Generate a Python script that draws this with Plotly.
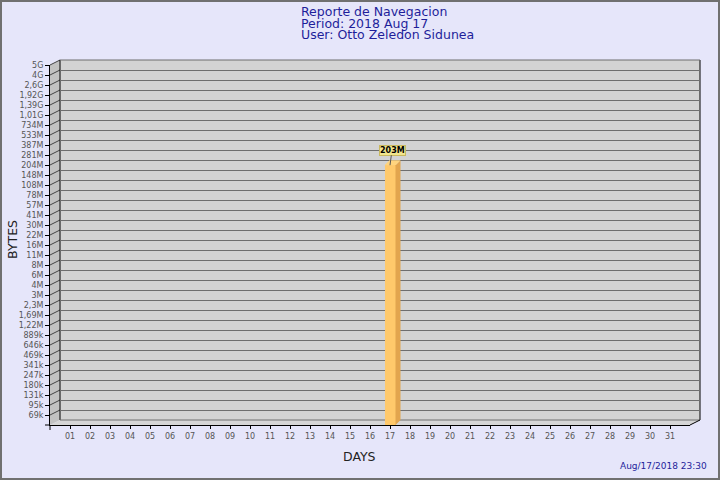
import math
import plotly.graph_objects as go

# ---------------- data ----------------
TITLE_LINES = ["Reporte de Navegacion", "Period: 2018 Aug 17", "User: Otto Zeledon Sidunea"]
DAY_LABELS = ["01", "02", "03", "04", "05", "06", "07", "08", "09", "10",
              "11", "12", "13", "14", "15", "16", "17", "18", "19", "20",
              "21", "22", "23", "24", "25", "26", "27", "28", "29", "30", "31"]
DAY_NUMBERS = [1, 2, 3, 4, 5, 6, 7, 8, 9, 10, 11, 12, 13, 14, 15, 16,
               17, 18, 19, 20, 21, 22, 23, 24, 25, 26, 27, 28, 29, 30, 31]
BYTES_PER_DAY = [0, 0, 0, 0, 0, 0, 0, 0, 0, 0, 0, 0, 0, 0, 0, 0,
                 203e6, 0, 0, 0, 0, 0, 0, 0, 0, 0, 0, 0, 0, 0, 0]
BAR_TEXT = ["", "", "", "", "", "", "", "", "", "", "", "", "", "", "", "",
            "203M", "", "", "", "", "", "", "", "", "", "", "", "", "", ""]
Y_TICK_LABELS = ["69k", "95k", "131k", "180k", "247k", "341k", "469k", "646k", "889k",
                 "1,22M", "1,69M", "2,3M", "3M", "4M", "6M", "8M", "11M", "16M", "22M",
                 "30M", "41M", "57M", "78M", "108M", "148M", "204M", "281M", "387M",
                 "533M", "734M", "1,01G", "1,39G", "1,92G", "2,6G", "4G", "5G"]
Y_FIRST_TICK = 69e3
Y_LAST_TICK = 5e9
X_TITLE = "DAYS"
Y_TITLE = "BYTES"
TIMESTAMP = "Aug/17/2018 23:30"

# ---------------- geometry / style ----------------
W, H = 720, 480
ML, MR, MT, MB = 50, 20, 60, 55
PW, PH = W - ML - MR, H - MT - MB
DEPTH_X, DEPTH_Y = 10, 5          # 3D offset of back plane (px)


def px(x):
    return (x - ML) / PW


def py(y):
    return (H - MB - y) / PH


n_steps = len(Y_TICK_LABELS) - 1
lo, hi = math.log10(Y_FIRST_TICK), math.log10(Y_LAST_TICK)
step = (hi - lo) / n_steps
tick_vals = [10 ** (lo + k * step) for k in range(len(Y_TICK_LABELS))]
y_range = [lo - step, hi]
half = 10 ** (step / 2)           # multiplicative half step (= 5 px)
x_range = [0, 32]

BG = "#E6E6FA"
PLANE = "#D3D3D3"
WALL = "#C2C2C2"
FLOOR = "#D6D6D6"
GRID = "#6E6E6E"
NAVY = "#1E1E9A"
TICKC = "#555555"
BAR_FRONT = "#FFC96B"
BAR_SIDE = "#E2A54E"
BAR_TOP = "#FFD47E"

fig = go.Figure()

# invisible trace on the back (grid) subplot
fig.add_trace(go.Scatter(x=[0], y=[tick_vals[0]], mode="markers",
                         marker=dict(opacity=0), xaxis="x", yaxis="y",
                         hoverinfo="skip", showlegend=False))

# bars (front frame)
bar_x = [d for d, v in zip(DAY_NUMBERS, BYTES_PER_DAY) if v > 0]
bar_y = [v for v in BYTES_PER_DAY if v > 0]
bar_w = 0.55
dx = DEPTH_X / 2 / (PW - DEPTH_X) * (x_range[1] - x_range[0])  # 5 px in day units
y_bottom = 10 ** y_range[0]

for xv, yv in zip(bar_x, bar_y):
    # side face
    fig.add_trace(go.Scatter(
        x=[xv + bar_w / 2, xv + bar_w / 2 + dx, xv + bar_w / 2 + dx, xv + bar_w / 2],
        y=[y_bottom, y_bottom * half, yv * half, yv],
        fill="toself", fillcolor=BAR_SIDE, mode="lines", line=dict(width=0),
        xaxis="x2", yaxis="y2", hoverinfo="skip", showlegend=False))
    # top face
    fig.add_trace(go.Scatter(
        x=[xv - bar_w / 2, xv - bar_w / 2 + dx, xv + bar_w / 2 + dx, xv + bar_w / 2],
        y=[yv, yv * half, yv * half, yv],
        fill="toself", fillcolor=BAR_TOP, mode="lines", line=dict(width=0),
        xaxis="x2", yaxis="y2", hoverinfo="skip", showlegend=False))

fig.add_trace(go.Bar(x=bar_x, y=bar_y, width=bar_w,
                     marker=dict(color=BAR_FRONT, line=dict(width=0)),
                     xaxis="x2", yaxis="y2", showlegend=False))

shapes = []
# back plane
shapes.append(dict(type="rect", xref="paper", yref="paper",
                   x0=px(ML + DEPTH_X), x1=px(ML + PW), y0=py(MT + PH - DEPTH_Y), y1=py(MT),
                   fillcolor=PLANE, line=dict(width=0), layer="below"))
# left wall
wall = "M {},{} L {},{} L {},{} L {},{} Z".format(
    px(ML), py(MT + DEPTH_Y), px(ML + DEPTH_X), py(MT),
    px(ML + DEPTH_X), py(MT + PH - DEPTH_Y), px(ML), py(MT + PH))
shapes.append(dict(type="path", xref="paper", yref="paper", path=wall,
                   fillcolor=WALL, line=dict(width=0), layer="below"))
# floor
floor = "M {},{} L {},{} L {},{} L {},{} Z".format(
    px(ML), py(MT + PH), px(ML + DEPTH_X), py(MT + PH - DEPTH_Y),
    px(ML + PW), py(MT + PH - DEPTH_Y), px(ML + PW - DEPTH_X), py(MT + PH))
shapes.append(dict(type="path", xref="paper", yref="paper", path=floor,
                   fillcolor=FLOOR, line=dict(width=0), layer="below"))

# slanted tick connectors on the left wall
front_top = MT + DEPTH_Y
front_h = PH - DEPTH_Y
for k in range(len(Y_TICK_LABELS)):
    yk = MT + PH - (k + 1) * front_h / (n_steps + 1)
    shapes.append(dict(type="line", xref="paper", yref="paper",
                       x0=px(ML), y0=py(yk), x1=px(ML + DEPTH_X), y1=py(yk - DEPTH_Y),
                       line=dict(color="#444444", width=1), layer="below"))

# back plane edges
shapes += [
    dict(type="line", xref="paper", yref="paper", x0=px(ML + DEPTH_X), x1=px(ML + DEPTH_X),
         y0=py(MT), y1=py(MT + PH - DEPTH_Y), line=dict(color="black", width=1), layer="below"),
    dict(type="line", xref="paper", yref="paper", x0=px(ML + PW), x1=px(ML + PW),
         y0=py(MT), y1=py(MT + PH - DEPTH_Y), line=dict(color="black", width=1), layer="below"),
    dict(type="line", xref="paper", yref="paper", x0=px(ML + DEPTH_X), x1=px(ML + PW),
         y0=py(MT), y1=py(MT), line=dict(color=GRID, width=1), layer="below"),
    dict(type="line", xref="paper", yref="paper", x0=px(ML + DEPTH_X), x1=px(ML + PW),
         y0=py(MT + PH - DEPTH_Y), y1=py(MT + PH - DEPTH_Y), line=dict(color=GRID, width=1), layer="below"),
    dict(type="line", xref="paper", yref="paper", x0=px(ML + PW - DEPTH_X), x1=px(ML + PW),
         y0=py(MT + PH), y1=py(MT + PH - DEPTH_Y), line=dict(color="black", width=1), layer="below"),
    # axis cross at origin
    dict(type="line", xref="paper", yref="paper", x0=px(ML), x1=px(ML),
         y0=py(MT + PH), y1=py(MT + PH + 5), line=dict(color="black", width=1)),
    dict(type="line", xref="paper", yref="paper", x0=px(ML - 5), x1=px(ML),
         y0=py(MT + PH), y1=py(MT + PH), line=dict(color="black", width=1)),
    # image border
    dict(type="rect", xref="paper", yref="paper", x0=px(1), x1=px(W - 1),
         y0=py(1), y1=py(H - 1), line=dict(color="#707070", width=2), layer="above"),
]

annotations = []
title_y = [11.5, 23, 34.5]
for txt, yy in zip(TITLE_LINES, title_y):
    annotations.append(dict(text=txt, xref="paper", yref="paper", x=px(299), y=py(yy),
                            xanchor="left", yanchor="middle", showarrow=False,
                            font=dict(size=12.5, color=NAVY)))
annotations.append(dict(text=X_TITLE, xref="paper", yref="paper", x=px(359), y=py(456),
                        xanchor="center", yanchor="middle", showarrow=False,
                        font=dict(size=12.5, color="#222222")))
annotations.append(dict(text=Y_TITLE, xref="paper", yref="paper", x=px(12), y=py(240),
                        xanchor="center", yanchor="middle", showarrow=False, textangle=-90,
                        font=dict(size=12.5, color="#222222")))
annotations.append(dict(text=TIMESTAMP, xref="paper", yref="paper", x=px(709), y=py(466),
                        xanchor="right", yanchor="middle", showarrow=False,
                        font=dict(size=9, color=NAVY)))
for d, v, t in zip(DAY_NUMBERS, BYTES_PER_DAY, BAR_TEXT):
    if v > 0 and t:
        annotations.append(dict(text="<b>" + t + "</b>", x=d, y=math.log10(v), xref="x2", yref="y2",
                                showarrow=True, arrowhead=0, arrowwidth=1, arrowcolor="#555555",
                                ax=2, ay=-15, font=dict(size=8, color="black"),
                                bgcolor="#F2E58C", bordercolor="#C9B85E", borderwidth=1, borderpad=0))

fig.update_layout(
    width=W, height=H,
    margin=dict(l=ML, r=MR, t=MT, b=MB, pad=0),
    paper_bgcolor=BG, plot_bgcolor="rgba(0,0,0,0)",
    font=dict(family="DejaVu Sans", size=9, color=TICKC),
    showlegend=False, bargap=0,
    shapes=shapes, annotations=annotations,
    # back plane (grid)
    xaxis=dict(domain=[px(ML + DEPTH_X), 1], range=x_range, visible=False, fixedrange=True),
    yaxis=dict(domain=[py(MT + PH - DEPTH_Y), 1], type="log", range=y_range,
               tickvals=tick_vals, showticklabels=False, ticks="",
               showgrid=True, gridcolor=GRID, gridwidth=1, zeroline=False, showline=False,
               fixedrange=True),
    # front frame (axes + bars)
    xaxis2=dict(domain=[0, px(ML + PW - DEPTH_X)], range=x_range, anchor="y2",
                tickvals=DAY_NUMBERS, ticktext=DAY_LABELS, ticks="outside", ticklen=3,
                tickcolor="black", showline=True, linecolor="black", linewidth=1,
                showgrid=False, zeroline=False, tickfont=dict(size=8, color=TICKC),
                fixedrange=True),
    yaxis2=dict(domain=[0, py(front_top)], type="log", range=y_range, anchor="x2",
                tickvals=tick_vals, ticktext=Y_TICK_LABELS, ticks="outside", ticklen=4,
                tickcolor="black", showline=True, linecolor="black", linewidth=1,
                showgrid=False, zeroline=False, tickfont=dict(size=8, color=TICKC),
                fixedrange=True),
)

fig.write_html("out.html", config={"displayModeBar": False},
               post_script="document.body.style.margin='0px';document.body.style.overflow='hidden';")
